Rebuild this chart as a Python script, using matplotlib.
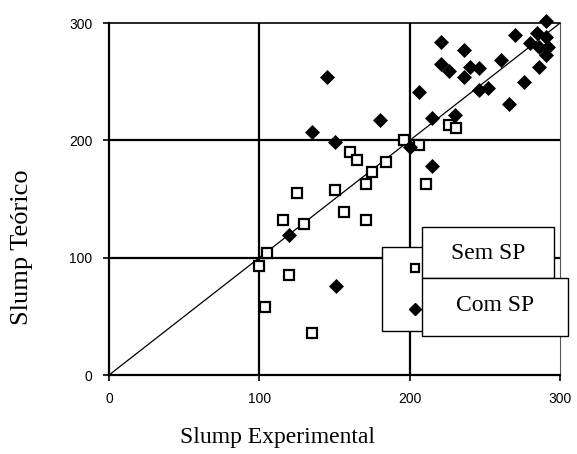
import matplotlib
matplotlib.use('Agg')
import matplotlib.pyplot as plt
from matplotlib.patches import Rectangle
from matplotlib.lines import Line2D

# dados
sem_sp_exp = [100, 105, 104, 116, 120, 125, 130, 135, 150, 156, 160, 165,
              171, 171, 175, 184, 196, 206, 211, 226, 231]
sem_sp_teo = [93, 104, 58, 132, 85, 155, 129, 36, 158, 139, 190, 183,
              163, 132, 173, 182, 200, 196, 163, 213, 211]

com_sp_exp = [120, 135, 145, 150, 151, 180, 200, 206, 215, 215, 221, 221,
              226, 230, 236, 236, 240, 246, 246, 252, 261, 266, 270, 276,
              280, 285, 286, 286, 291, 292, 291, 291]
com_sp_teo = [119, 207, 254, 199, 76, 217, 194, 241, 178, 219, 284, 265,
              259, 222, 277, 254, 263, 262, 243, 245, 269, 231, 290, 250,
              283, 292, 280, 263, 288, 280, 273, 302]

ticks = [0, 100, 200, 300]
legend_labels = ['Sem SP', 'Com SP']

fig = plt.figure(figsize=(5.77, 4.54), dpi=100)
ax = fig.add_axes([0.189, 0.174, 0.7815, 0.775])

# linhas de grade
for v in ticks[1:3]:
    ax.axvline(v, color='black', lw=1.6, zorder=1)
    ax.axhline(v, color='black', lw=1.6, zorder=1)

# linha de igualdade
ax.plot([0, 300], [0, 300], color='black', lw=0.9, zorder=2)

ax.plot(sem_sp_exp, sem_sp_teo, 's', ms=7.5, mfc='white', mec='black',
        mew=1.6, zorder=3, clip_on=False)
ax.plot(com_sp_exp, com_sp_teo, 'D', ms=7.5, mfc='black', mec='black',
        mew=0.5, zorder=4, clip_on=False)

ax.set_xlim(0, 300)
ax.set_ylim(0, 300)
ax.set_xticks(ticks)
ax.set_yticks(ticks)
ax.tick_params(direction='out', length=4, width=1.2, labelsize=10, pad=8)
for lab in ax.get_xticklabels() + ax.get_yticklabels():
    lab.set_family('Liberation Sans')

ax.spines['left'].set_linewidth(1.6)
ax.spines['bottom'].set_linewidth(1.6)
ax.spines['top'].set_linewidth(1.2)
ax.spines['right'].set_linewidth(0.8)
ax.spines['right'].set_color('#555555')

ax.set_xlabel('Slump Experimental', family='Liberation Serif', fontsize=17)
ax.set_ylabel('Slump Teórico', family='Liberation Serif', fontsize=19)
ax.xaxis.set_label_coords(0.3725, -0.148)
ax.yaxis.set_label_coords(-0.168, 0.364)

# legenda desenhada à mão, como no original
fig.add_artist(Rectangle((0.662, 0.271), 0.071, 0.185, transform=fig.transFigure,
                         facecolor='white', edgecolor='black', lw=1.0, zorder=5))
fig.add_artist(Rectangle((0.7314, 0.3877), 0.2288, 0.1123, transform=fig.transFigure,
                         facecolor='white', edgecolor='black', lw=1.0, zorder=5))
fig.add_artist(Rectangle((0.7314, 0.2599), 0.253, 0.1278, transform=fig.transFigure,
                         facecolor='white', edgecolor='black', lw=1.0, zorder=5))
fig.add_artist(Line2D([0.7192], [0.4097], marker='s', ms=6, mfc='white', mec='black',
                      mew=1.6, transform=fig.transFigure, zorder=6))
fig.add_artist(Line2D([0.7192], [0.3194], marker='D', ms=6.5, mfc='black', mec='black',
                      transform=fig.transFigure, zorder=6))
fig.text(0.846, 0.441, legend_labels[0], family='Liberation Serif', fontsize=17,
         ha='center', va='center', zorder=7)
fig.text(0.858, 0.326, legend_labels[1], family='Liberation Serif', fontsize=17,
         ha='center', va='center', zorder=7)

plt.savefig('out.png', dpi=100)
